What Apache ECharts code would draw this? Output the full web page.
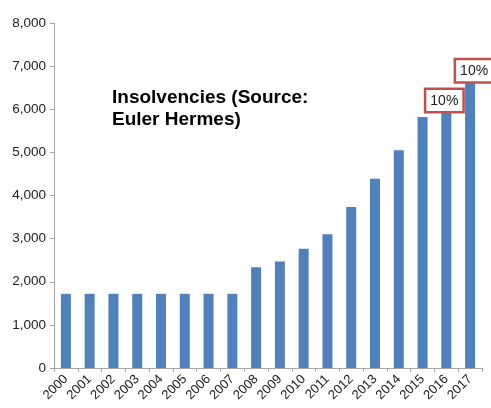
<!DOCTYPE html>
<html>
<head>
<meta charset="utf-8">
<script src="https://cdn.jsdelivr.net/npm/echarts@6/dist/echarts.min.js"></script>
<style>
  html, body { margin: 0; padding: 0; background: #fff; }
  #chart { width: 491px; height: 408px; }
</style>
</head>
<body>
<div id="chart"></div>
<script>
const years = ['2000', '2001', '2002', '2003', '2004', '2005', '2006', '2007', '2008',
  '2009', '2010', '2011', '2012', '2013', '2014', '2015', '2016', '2017'];
const insolvencies = [1720, 1720, 1720, 1720, 1720, 1720, 1720, 1720, 2335,
  2467, 2768, 3100, 3733, 4391, 5047, 5820, 5960, 6647];
// growth callouts shown above the last two bars
const growthLabels = { 16: '10%', 17: '10%' };

const chart = echarts.init(document.getElementById('chart'));

const axisGrey = '#a6a6a6';
const font = 'Liberation Sans, Arial, sans-serif';

const barData = insolvencies.map((v, i) => {
  if (!growthLabels[i]) return v;
  return {
    value: v,
    label: {
      show: true,
      position: 'top',
      distance: 0,
      offset: [i === 17 ? 4 : -2, 0],
      formatter: growthLabels[i],
      color: '#222',
      fontSize: 14,
      fontFamily: font,
      backgroundColor: '#fff',
      borderColor: '#c0504d',
      borderWidth: 2.5,
      padding: [4, 4, 3, 4]
    }
  };
});

chart.setOption({
  animation: false,
  grid: { left: 54, right: 9, top: 23, bottom: 40 },
  graphic: [{
    type: 'text',
    left: 112,
    top: 87,
    style: {
      text: 'Insolvencies (Source:\nEuler Hermes)',
      font: 'bold 19px ' + font,
      fill: '#000',
      lineHeight: 22
    }
  }],
  xAxis: {
    type: 'category',
    data: years,
    axisLine: { lineStyle: { color: axisGrey, width: 1 } },
    axisTick: { show: true, length: 4, alignWithLabel: false, lineStyle: { color: axisGrey } },
    axisLabel: {
      rotate: 45,
      interval: 0,
      margin: 9,
      color: '#222',
      fontSize: 13,
      fontFamily: font
    }
  },
  yAxis: {
    type: 'value',
    min: 0,
    max: 8000,
    interval: 1000,
    axisLine: { show: true, lineStyle: { color: axisGrey, width: 1 } },
    axisTick: { show: true, length: 4, lineStyle: { color: axisGrey } },
    splitLine: { show: false },
    axisLabel: {
      margin: 8,
      color: '#222',
      fontSize: 13.5,
      fontFamily: font,
      formatter: v => v.toLocaleString('en-US')
    }
  },
  series: [{
    type: 'bar',
    data: barData,
    barWidth: 10,
    itemStyle: { color: '#4f81bd' }
  }]
});
</script>
</body>
</html>
